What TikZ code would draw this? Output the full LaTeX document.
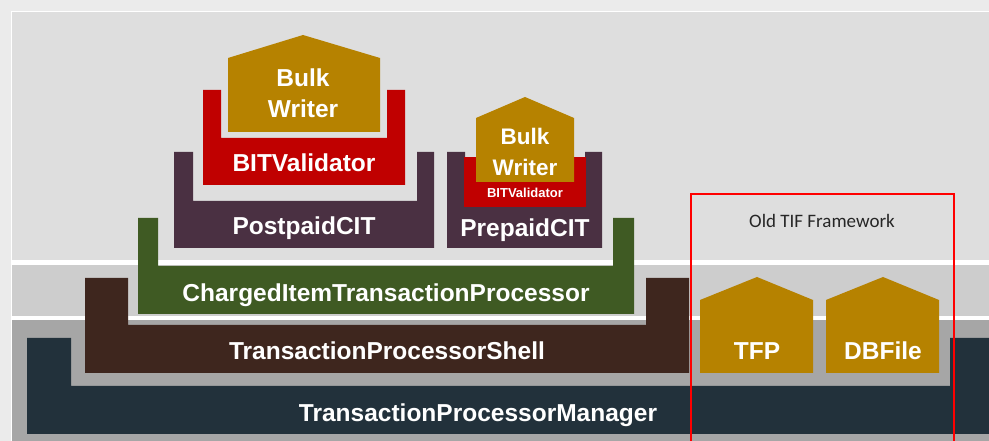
\documentclass[tikz,border=0pt]{standalone}
\usepackage{fontspec}
\setmainfont{Liberation Sans}
\newfontfamily\calibri{Carlito}
\usepackage{xcolor}
\definecolor{panelgrey}{HTML}{DEDEDE}
\definecolor{midgrey}{HTML}{CDCDCD}
\definecolor{lowgrey}{HTML}{A6A6A6}
\definecolor{gold}{HTML}{B68200}
\definecolor{bitred}{HTML}{C00000}
\definecolor{citpurple}{HTML}{4A3042}
\definecolor{citgreen}{HTML}{3F5A23}
\definecolor{shellbrown}{HTML}{3E261E}
\definecolor{mgrslate}{HTML}{22313B}

\begin{document}
\begin{tikzpicture}[x=1pt,y=1pt,
  lbl/.style={text=white,inner sep=0pt,anchor=base,font=\bfseries\fontsize{24.5}{26}\selectfont},
  sml/.style={lbl,font=\bfseries\fontsize{13}{14}\selectfont}]

\useasboundingbox (0,0) rectangle (989,441);
\fill [black!8] (0,0) rectangle (989,441);

% layer bands
\fill [panelgrey] (11,0) rectangle (989,429);
\fill [white] (11,176) rectangle (989,181);
\fill [midgrey] (11,125) rectangle (989,176);
\fill [white] (11,121) rectangle (989,125);
\fill [lowgrey] (11,0) rectangle (989,121);
\draw [white,line width=1pt] (11,0) -- (11,429) -- (989,429);

% manager
\fill [mgrslate] (27,7) -- (989,7) -- (989,103) -- (950,103) -- (950,55) -- (71,55) -- (71,103) -- (27,103) -- cycle;
\node [lbl] (mgr) at (478,19) {TransactionProcessorManager};

% shell
\fill [shellbrown] (85,68) -- (689,68) -- (689,163) -- (646,163) -- (646,116) -- (128,116) -- (128,163) -- (85,163) -- cycle;
\node [lbl] (shell) at (387,81) {TransactionProcessorShell};

% charged item processor
\fill [citgreen] (138,127) -- (634,127) -- (634,223) -- (613,223) -- (613,175) -- (158,175) -- (158,223) -- (138,223) -- cycle;
\node [lbl] (citp) at (386,139) {ChargedItemTransactionProcessor};

% postpaid
\fill [citpurple] (174,193) -- (434,193) -- (434,289) -- (417,289) -- (417,240) -- (193,240) -- (193,289) -- (174,289) -- cycle;
\node [lbl] (post) at (304,206) {PostpaidCIT};

\fill [bitred] (203,256) -- (405,256) -- (405,351) -- (387,351) -- (387,303) -- (221,303) -- (221,351) -- (203,351) -- cycle;
\node [lbl] (postbit) at (304,269) {BITValidator};

\fill [gold] (228,309) -- (380,309) -- (380,383) -- (303,406) -- (228,383) -- cycle;
\node [lbl] (postbw1) at (303,354) {Bulk};
\node [lbl] (postbw2) at (303,323) {Writer};

% prepaid
\fill [citpurple] (447,193) -- (602,193) -- (602,289) -- (585,289) -- (585,234) -- (465,234) -- (465,289) -- (447,289) -- cycle;
\node [lbl] (pre) at (525,204) {PrepaidCIT};

\fill [bitred] (464,234) rectangle (586,284);
\node [sml] (prebit) at (525,243) {BITValidator};

\fill [gold] (476,259) -- (574,259) -- (574,323) -- (525,344) -- (476,323) -- cycle;
\node [lbl,font=\bfseries\fontsize{22.5}{24}\selectfont] (prebw1) at (525,296) {Bulk};
\node [lbl,font=\bfseries\fontsize{22.5}{24}\selectfont] (prebw2) at (525,265) {Writer};

% old framework
\fill [gold] (700,68) -- (813,68) -- (813,141) -- (757,164) -- (700,141) -- cycle;
\node [lbl] (tfp) at (757,81) {TFP};
\fill [gold] (826,68) -- (939,68) -- (939,141) -- (883,164) -- (826,141) -- cycle;
\node [lbl] (dbf) at (883,81) {DBFile};

\draw [red,line width=2pt] (691,-5) -- (691,247) -- (954,247) -- (954,-5);
\node [inner sep=0pt,anchor=base,text=black!85,font=\calibri\fontsize{19}{21}\selectfont] (old) at (822,213) {Old TIF Framework};

\end{tikzpicture}
\end{document}
